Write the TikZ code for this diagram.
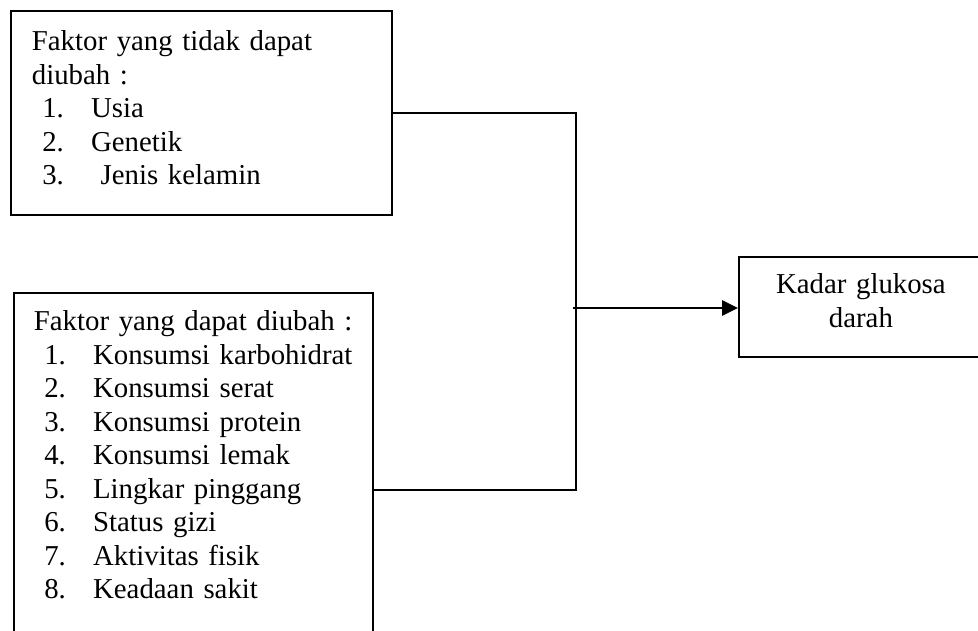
\documentclass[tikz,border=0pt]{standalone}
\usepackage{fontspec}
\setmainfont{Liberation Serif}
\usepackage{tikz}
\usetikzlibrary{shapes,arrows.meta,positioning}

\newcommand{\listitem}[2]{\hspace*{0.26cm}\makebox[1.22cm][l]{#1}#2}

\tikzset{
    faktorbox/.style={
        draw,
        line width=1.3pt,
        rectangle,
        anchor=north west,
        inner ysep=0pt,
        font=\fontsize{20.5}{23.8}\selectfont
    },
    link/.style={
        line width=1pt
    },
    arrowlink/.style={
        line width=1.6pt,
        -{Triangle[length=0.4cm,width=0.38cm]}
    }
}

\begin{document}
\begin{tikzpicture}
                \useasboundingbox (0,0) rectangle (24.45,15.75);
                \clip (0,0) rectangle (24.45,15.75);

                \node[
                    faktorbox,
                    align=left,
                    inner xsep=0.525cm,
                    text width=8.475cm,
                    text height=1.0cm,
                    text depth=4.1cm
                ] (tetap) at (0.25,15.5) {Faktor yang tidak dapat\\
                    diubah :\\
                    \listitem{1.}{Usia}\\
                    \listitem{2.}{Genetik}\\
                    \listitem{3.}{\ Jenis kelamin}};

                \node[
                    faktorbox,
                    align=left,
                    inner xsep=0.5cm,
                    text width=7.975cm,
                    text height=0.95cm,
                    text depth=8.9cm
                ] (ubah) at (0.325,8.45) {Faktor yang dapat diubah :\\
                    \listitem{1.}{Konsumsi karbohidrat}\\
                    \listitem{2.}{Konsumsi serat}\\
                    \listitem{3.}{Konsumsi protein}\\
                    \listitem{4.}{Konsumsi lemak}\\
                    \listitem{5.}{Lingkar pinggang}\\
                    \listitem{6.}{Status gizi}\\
                    \listitem{7.}{Aktivitas fisik}\\
                    \listitem{8.}{Keadaan sakit}};

                \node[
                    faktorbox,
                    align=center,
                    inner xsep=0pt,
                    text width=6.1cm,
                    text height=0.925cm,
                    text depth=1.575cm
                ] (glukosa) at (18.45,9.35) {Kadar glukosa\\ darah};

                \coordinate (simpul) at (14.4,8.05);

                \draw[link] (tetap.east) -| (simpul) |- (ubah.east);
                \draw[arrowlink] ([xshift=-2pt]simpul) -- (glukosa.west |- simpul);

            \end{tikzpicture}
\end{document}
